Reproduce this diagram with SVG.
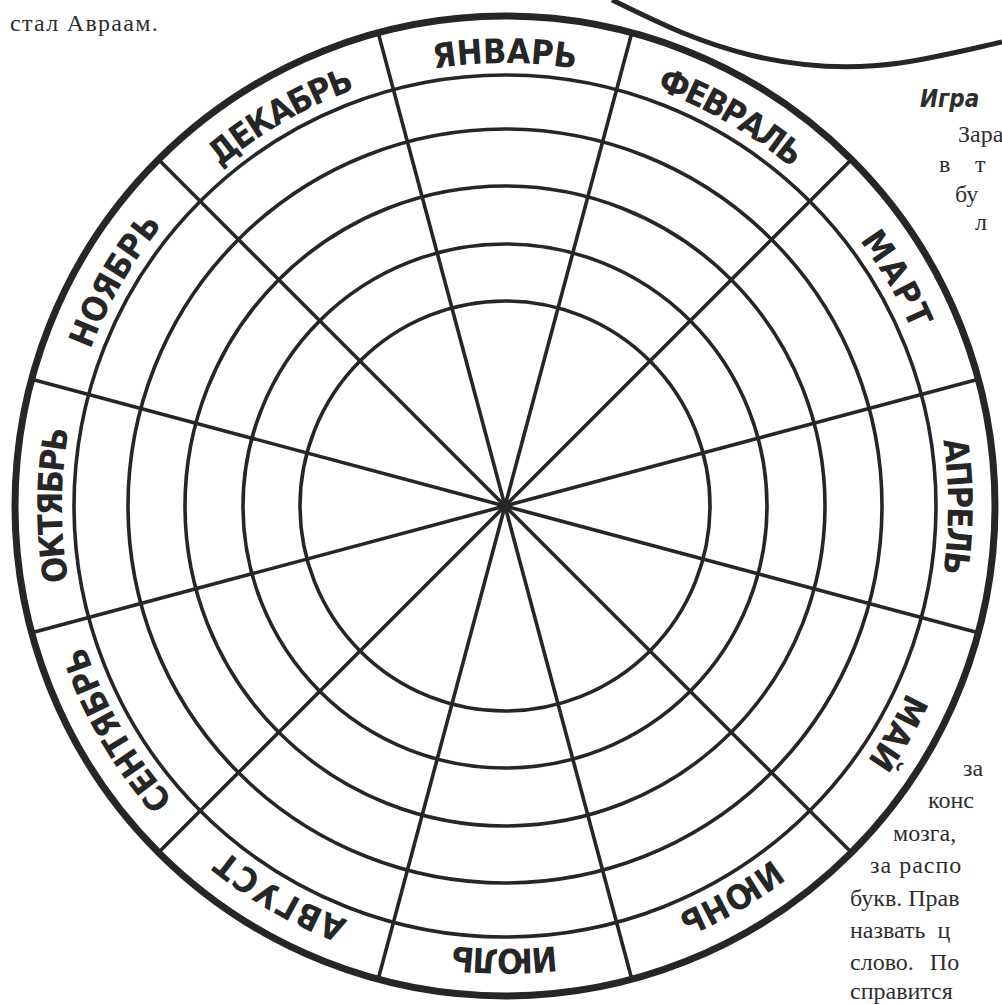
<svg xmlns="http://www.w3.org/2000/svg" width="1002" height="1004" viewBox="0 0 1002 1004">
<style>
.ring{fill:none;stroke:#262626;stroke-width:3.6}
.outer{fill:none;stroke:#262626;stroke-width:7}
.spoke{stroke:#262626;stroke-width:3.6;stroke-linecap:round}
.m{font-family:"DejaVu Sans Condensed","DejaVu Sans",sans-serif;font-weight:bold;font-size:34px;fill:#262626}
.body{font-family:"Liberation Serif",serif;font-size:24px;fill:#2e2e2e}
.title{font-family:"DejaVu Sans Condensed","DejaVu Sans",sans-serif;font-style:italic;font-weight:bold;font-size:24px;fill:#2e2e2e}
</style>
<defs>
<path id="arc" d="M317.8,104.5 A443,443 0 0,1 692.2,104.5"/>
</defs>
<rect width="1002" height="1004" fill="#ffffff"/>

<g id="page-text">
<text class="body" x="10" y="31" font-size="26" letter-spacing="1.3">стал Авраам.</text>
<text class="title" x="920" y="107">Игра</text>
<text class="body" x="958" y="142">Зара</text>
<text class="body" x="939" y="172">в</text>
<text class="body" x="975" y="172">т</text>
<text class="body" x="955" y="202">бу</text>
<text class="body" x="975" y="230">л</text>
<text class="body" x="963" y="776">за</text>
<text class="body" x="928" y="808">конс</text>
<text class="body" x="893" y="841">мозга,</text>
<text class="body" x="870" y="873" letter-spacing="1">за распо</text>
<text class="body" x="850" y="906">букв. Прав</text>
<text class="body" x="850" y="938" word-spacing="6">назвать ц</text>
<text class="body" x="850" y="970" word-spacing="10">слово. По</text>
<text class="body" x="850" y="999">справится</text>
</g>

<g id="bubble">
<path d="M612,0 C650,18 690,40 750,55 C800,67 850,70 900,63 C940,57 975,48 1002,42" fill="none" stroke="#262626" stroke-width="5"/>
</g>

<g id="wheel">
<circle class="outer" cx="505" cy="506" r="490"/>
<circle class="ring" cx="505" cy="506" r="431"/>
<circle class="ring" cx="505" cy="506" r="377"/>
<circle class="ring" cx="505" cy="506" r="320"/>
<circle class="ring" cx="505" cy="506" r="262"/>
<circle class="ring" cx="505" cy="506" r="205"/>
</g>

<g id="connectors">
<g transform="rotate(15 505 506)"><line class="spoke" x1="505" y1="16" x2="505" y2="996"/></g>
<g transform="rotate(45 505 506)"><line class="spoke" x1="505" y1="16" x2="505" y2="996"/></g>
<g transform="rotate(75 505 506)"><line class="spoke" x1="505" y1="16" x2="505" y2="996"/></g>
<g transform="rotate(105 505 506)"><line class="spoke" x1="505" y1="16" x2="505" y2="996"/></g>
<g transform="rotate(135 505 506)"><line class="spoke" x1="505" y1="16" x2="505" y2="996"/></g>
<g transform="rotate(165 505 506)"><line class="spoke" x1="505" y1="16" x2="505" y2="996"/></g>
</g>

<g id="jan" transform="rotate(0 505 506)"><text class="m" text-anchor="middle"><textPath href="#arc" startOffset="50%">ЯНВАРЬ</textPath></text></g>
<g id="feb" transform="rotate(30 505 506)"><text class="m" text-anchor="middle" letter-spacing="-2"><textPath href="#arc" startOffset="50%">ФЕВРАЛЬ</textPath></text></g>
<g id="mar" transform="rotate(60 505 506)"><text class="m" text-anchor="middle" letter-spacing="2"><textPath href="#arc" startOffset="50%">МАРТ</textPath></text></g>
<g id="apr" transform="rotate(90 505 506)"><text class="m" text-anchor="middle" letter-spacing="-1.5"><textPath href="#arc" startOffset="50%">АПРЕЛЬ</textPath></text></g>
<g id="may" transform="rotate(120 505 506)"><text class="m" text-anchor="middle"><textPath href="#arc" startOffset="50%">МАЙ</textPath></text></g>
<g id="jun" transform="rotate(150 505 506)"><text class="m" text-anchor="middle"><textPath href="#arc" startOffset="50%">ИЮНЬ</textPath></text></g>
<g id="jul" transform="rotate(180 505 506)"><text class="m" text-anchor="middle" letter-spacing="-2"><textPath href="#arc" startOffset="50%">ИЮЛЬ</textPath></text></g>
<g id="aug" transform="rotate(210 505 506)"><text class="m" text-anchor="middle" letter-spacing="1.5"><textPath href="#arc" startOffset="50%">АВГУСТ</textPath></text></g>
<g id="sep" transform="rotate(240 505 506)"><text class="m" text-anchor="middle" letter-spacing="-0.5"><textPath href="#arc" startOffset="50%">СЕНТЯБРЬ</textPath></text></g>
<g id="oct" transform="rotate(270 505 506)"><text class="m" text-anchor="middle" letter-spacing="-2"><textPath href="#arc" startOffset="50%">ОКТЯБРЬ</textPath></text></g>
<g id="nov" transform="rotate(300 505 506)"><text class="m" text-anchor="middle"><textPath href="#arc" startOffset="50%">НОЯБРЬ</textPath></text></g>
<g id="dec" transform="rotate(330 505 506)"><text class="m" text-anchor="middle" letter-spacing="-1.5"><textPath href="#arc" startOffset="50%">ДЕКАБРЬ</textPath></text></g>
</svg>
